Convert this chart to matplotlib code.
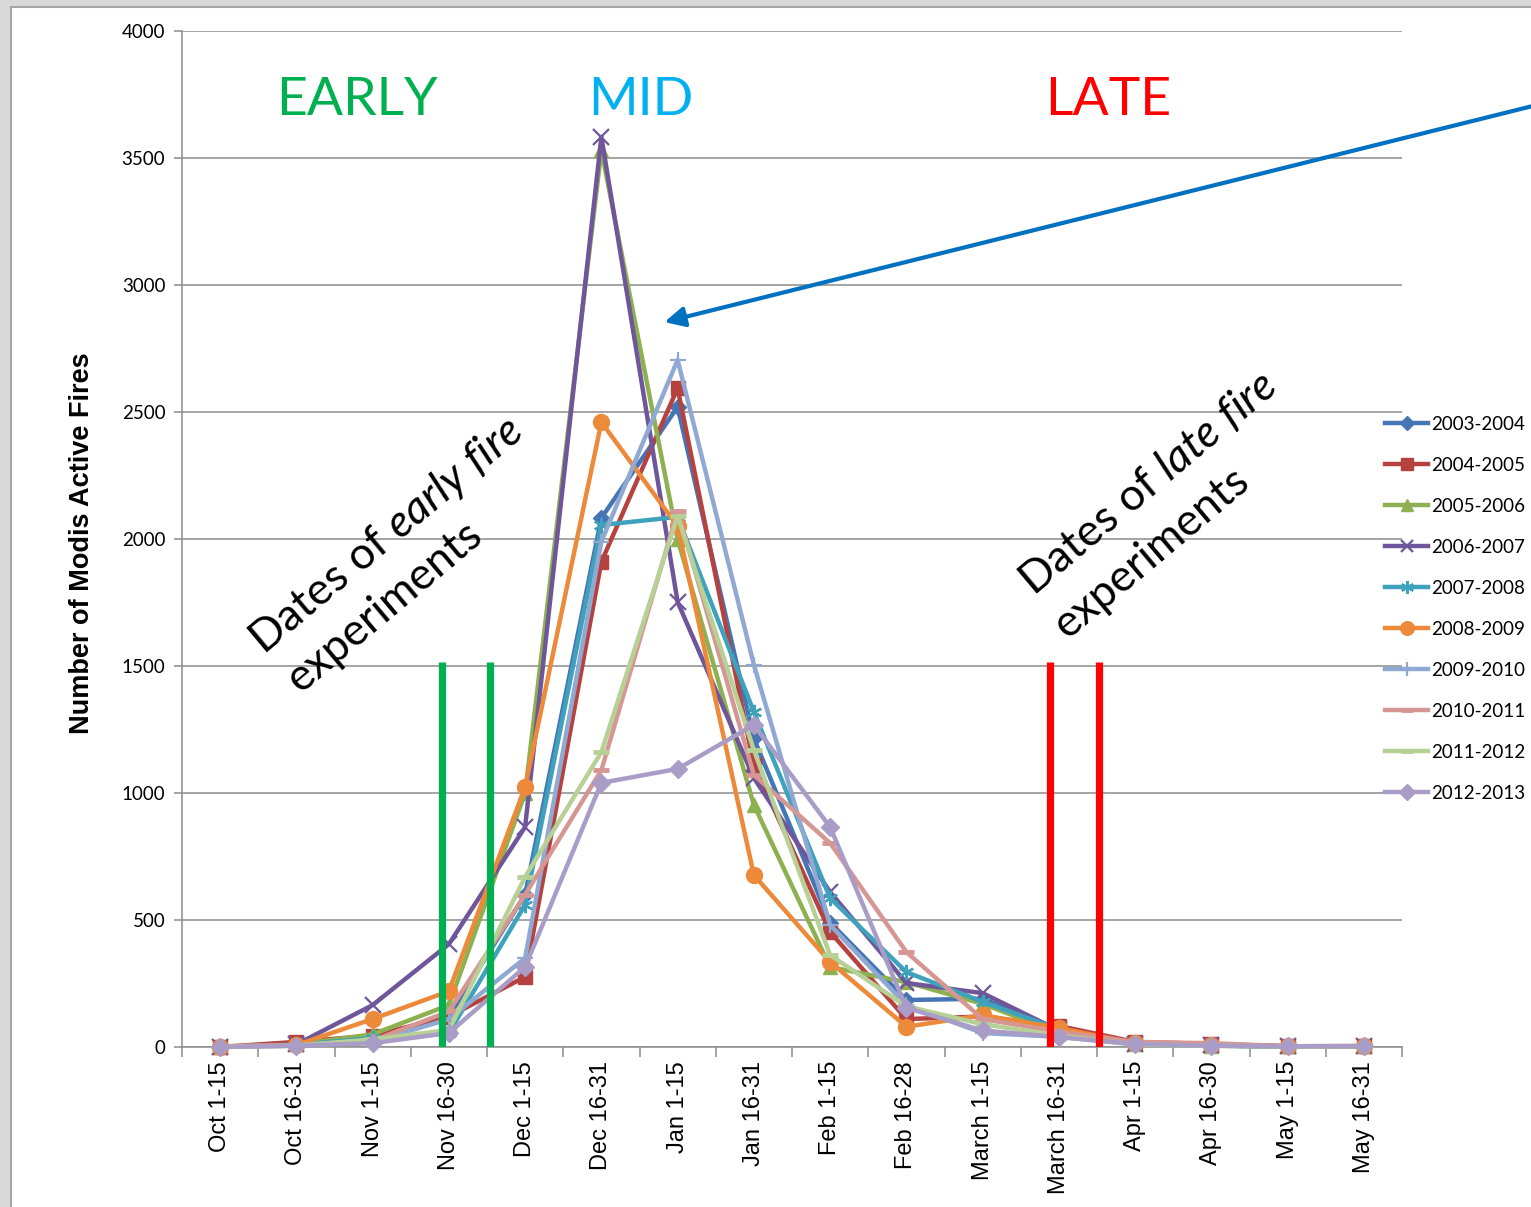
import matplotlib.pyplot as plt
import numpy as np
from matplotlib.patches import Rectangle

# mixed upright / italic text in the rotated notes
plt.rcParams['mathtext.fontset'] = 'custom'
plt.rcParams['mathtext.rm'] = 'Lato'
plt.rcParams['mathtext.it'] = 'Lato:italic'

# Half-month periods of the fire season
periods = ["Oct 1-15", "Oct 16-31", "Nov 1-15", "Nov 16-30", "Dec 1-15",
           "Dec 16-31", "Jan 1-15", "Jan 16-31", "Feb 1-15", "Feb 16-28",
           "March 1-15", "March 16-31", "Apr 1-15", "Apr 16-30", "May 1-15",
           "May 16-31"]

# MODIS active fire counts per season
fires_2003_2004 = [0, 10, 25, 120, 600, 2083, 2520, 1215, 490, 185, 190, 65, 15, 8, 3, 3]
fires_2004_2005 = [0, 20, 45, 120, 276, 1910, 2594, 1110, 453, 110, 120, 83, 20, 12, 3, 3]
fires_2005_2006 = [0, 10, 50, 165, 1000, 3530, 2000, 953, 315, 255, 170, 55, 10, 5, 2, 3]
fires_2006_2007 = [0, 10, 165, 405, 866, 3583, 1752, 1059, 610, 252, 212, 65, 12, 6, 2, 3]
fires_2007_2008 = [0, 8, 35, 55, 560, 2055, 2087, 1319, 586, 295, 178, 70, 12, 6, 2, 3]
fires_2008_2009 = [0, 8, 110, 220, 1024, 2460, 2050, 677, 335, 80, 125, 75, 15, 8, 3, 3]
fires_2009_2010 = [0, 5, 20, 110, 350, 1990, 2705, 1505, 480, 165, 55, 40, 10, 5, 2, 3]
fires_2010_2011 = [3, 8, 25, 140, 600, 1090, 2110, 1071, 803, 374, 110, 60, 20, 15, 3, 5]
fires_2011_2012 = [0, 5, 30, 67, 670, 1161, 2090, 1169, 362, 160, 90, 45, 10, 5, 2, 3]
fires_2012_2013 = [0, 5, 15, 55, 315, 1040, 1095, 1268, 866, 154, 65, 39, 12, 5, 3, 3]

seasons = ["2003-2004", "2004-2005", "2005-2006", "2006-2007", "2007-2008",
           "2008-2009", "2009-2010", "2010-2011", "2011-2012", "2012-2013"]
series = [fires_2003_2004, fires_2004_2005, fires_2005_2006, fires_2006_2007,
          fires_2007_2008, fires_2008_2009, fires_2009_2010, fires_2010_2011,
          fires_2011_2012, fires_2012_2013]

# experiment dates, in period units
early_dates = [2.91, 3.54]
late_dates = [10.89, 11.52]
date_line_top = 1515

colors = ["#4575B4", "#B5423F", "#8DB150", "#6F5599", "#3FA2BC",
          "#EC8A3A", "#8FA9D3", "#D69794", "#B7D096", "#A99CC6"]
markers = ["D", "s", "^", "x", (6, 2, 0), "o", "+", "_", "_", "D"]
msizes = [8.5, 10, 10.5, 11, 11, 11.5, 12, 11, 11, 9.5]
mews = [1, 1, 1, 1.6, 1.6, 1, 1.6, 3.5, 3.5, 1]

fig = plt.figure(figsize=(15.31, 12.07), dpi=100)
fig.patch.set_facecolor("#d9d9d9")
fig.patches.append(Rectangle((10.5 / 1531, -0.01), 1.1, 1.01 - 6.5 / 1207,
                             transform=fig.transFigure, facecolor="white",
                             edgecolor="#a6a6a6", linewidth=1.5, zorder=-1))

ax = fig.add_axes([182 / 1531, 1 - 1047 / 1207, 1220 / 1531, 1016 / 1207])
ax.set_facecolor("none")
ax.set_zorder(2)

x = np.arange(len(periods))
for vals, label, c, m, ms, mew in zip(series, seasons, colors, markers, msizes, mews):
    ax.plot(x, vals, color=c, lw=3.2, marker=m, ms=ms, mfc=c, mec=c, mew=mew,
            label=label, zorder=3, clip_on=False)

ax.vlines(early_dates, 0, date_line_top, colors="#00B050", lw=5.2, zorder=4)
ax.vlines(late_dates, 0, date_line_top, colors="#FF0000", lw=5.2, zorder=4)

ax.set_xlim(-0.5, len(periods) - 0.5)
ax.set_ylim(0, 4000)
ax.set_yticks(np.arange(0, 4001, 500))
ax.yaxis.grid(True, color="#8c8c8c", lw=1.1)
ax.set_axisbelow(True)
for side in ["top", "right"]:
    ax.spines[side].set_visible(False)
for side in ["left", "bottom"]:
    ax.spines[side].set_color("#8c8c8c")
    ax.spines[side].set_linewidth(1.1)

ax.tick_params(axis="y", length=6, color="#8c8c8c", width=1.1, labelsize=13.5, pad=6)
for lab in ax.get_yticklabels():
    lab.set_fontfamily("Lato")

ax.set_xticks(x)
ax.set_xticklabels(periods, rotation=90, fontsize=17, family="Liberation Sans")
ax.set_xticks(np.arange(-0.5, len(periods), 1), minor=True)
ax.tick_params(axis="x", which="major", length=0, pad=10)
ax.tick_params(axis="x", which="minor", length=7, color="#8c8c8c", width=1.1)

ax.set_ylabel("Number of Modis Active Fires", fontsize=19.5, fontweight="bold",
              family="Liberation Sans", va="center")
ax.yaxis.set_label_coords(-0.082, 0.496)

# season phase headings
fig.text(357 / 1531, 1 - 115 / 1207, "EARLY", color="#00B050", fontsize=38.5,
         family="Lato", ha="center", va="baseline")
fig.text(641 / 1531, 1 - 115 / 1207, "MID", color="#00B0F0", fontsize=38.5,
         family="Lato", ha="center", va="baseline")
fig.text(1108 / 1531, 1 - 115 / 1207, "LATE", color="#FF0000", fontsize=38.5,
         family="Lato", ha="center", va="baseline")

# notes on the experiment dates
note_kw = dict(rotation=40, rotation_mode="anchor", ha="left", va="baseline",
               fontsize=32, family="Lato", zorder=5)
ax.text(0.564, 1543, r"Dates of $\mathit{early\ fire}$", **note_kw)
ax.text(1.05, 1390, "experiments", **note_kw)
ax.text(10.67, 1772, r"Dates of $\mathit{late\ fire}$", **note_kw)
ax.text(11.10, 1602, "experiments", **note_kw)

# pointer to the mid-season peak
ax.annotate("", xy=(5.827, 2854), xytext=(17.5, 3726),
            arrowprops=dict(arrowstyle="-|>", color="#0070C0", lw=3,
                            mutation_scale=30, shrinkA=0, shrinkB=0),
            annotation_clip=False)

ax.legend(loc="center left", bbox_to_anchor=(1385 / 1531, 1 - 609 / 1207),
          bbox_transform=fig.transFigure, frameon=False,
          prop={"family": "Lato", "size": 13.5}, handlelength=2.3,
          handletextpad=0.15, labelspacing=1.28, borderpad=0, borderaxespad=0,
          markerscale=0.85)

fig.savefig("out.png", dpi=100)
